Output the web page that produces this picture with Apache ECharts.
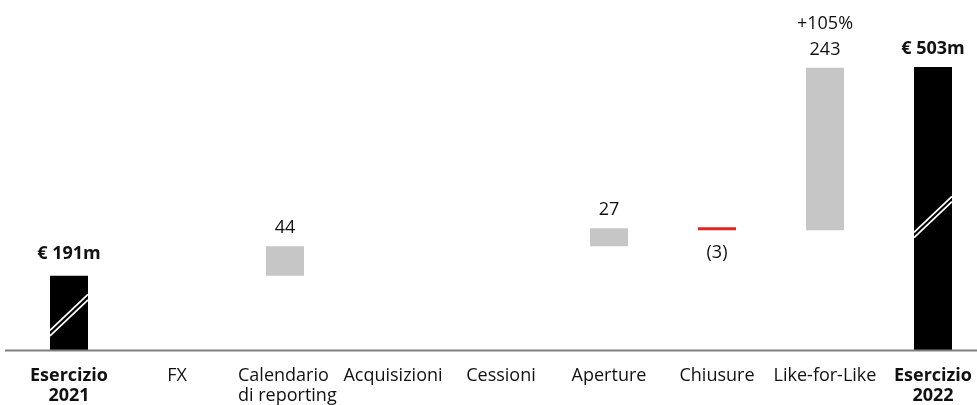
<!DOCTYPE html>
<html>
<head>
<meta charset="utf-8">
<script src="https://cdn.jsdelivr.net/npm/echarts@6/dist/echarts.min.js"></script>
<style>
html,body{margin:0;padding:0;background:#fff;}
#c{width:977px;height:405px;}
</style>
</head>
<body>
<div id="c"></div>
<script>
// ---- data ----
const categories = ['Esercizio 2021', 'FX', 'Calendario di reporting', 'Acquisizioni', 'Cessioni', 'Aperture', 'Chiusure', 'Like-for-Like', 'Esercizio 2022'];
const startValue = 191;
const endValue = 503;
const deltas = [null, 0, 44, 0, 0, 27, -3, 243, null];
const lflGrowth = '+105%';
const axisBreakValue = 80; // broken value axis starts here

// ---- derived ----
const FONT = 'Open Sans';
const FS = 18;
const helper = [], visible = [];
let cum = startValue;
deltas.forEach((d, i) => {
  if (i === 0) { helper.push(0); visible.push(startValue); return; }
  if (i === deltas.length - 1) { helper.push(0); visible.push(endValue); return; }
  if (d >= 0) { helper.push(cum); visible.push(d === 0 ? '-' : d); cum += d; }
  else { cum += d; helper.push(cum); visible.push(-d); }
});

const visibleData = visible.map((v, i) => {
  const isTotal = (i === 0 || i === deltas.length - 1);
  const d = deltas[i];
  const item = { value: v };
  if (isTotal) {
    item.itemStyle = { color: '#000000' };
    item.label = { show: true, position: 'top', distance: i === 0 ? 13 : 9, formatter: '€ ' + v + 'm', fontWeight: 'bold' };
  } else if (d < 0) {
    item.itemStyle = { color: '#e3241b' };
    item.label = { show: true, position: 'bottom', distance: 14, formatter: '(' + (-d) + ')' };
  } else if (d > 0) {
    item.itemStyle = { color: '#c6c6c6' };
    const isLfl = categories[i] === 'Like-for-Like';
    const txt = isLfl ? '{p|' + lflGrowth + '}\n{v|' + d + '}' : '{v|' + d + '}';
    item.label = { show: true, position: 'top', distance: 7, formatter: txt };
  }
  return item;
});

const breakData = [[0, startValue], [categories.length - 1, endValue]];

const chart = echarts.init(document.getElementById('c'), null, { renderer: 'canvas' });
const option = {
  animation: false,
  backgroundColor: '#ffffff',
  grid: { left: 69, right: 44, top: 67, bottom: 52, containLabel: false },
  xAxis: {
    type: 'category',
    data: categories,
    boundaryGap: false,
    axisTick: { show: false },
    axisLine: { show: false },
    splitLine: { show: false },
    axisLabel: {
      interval: 0,
      margin: 16,
      color: '#111',
      fontFamily: FONT,
      fontSize: FS,
      formatter: function (val, idx) {
        if (idx === 0 || idx === categories.length - 1) {
          const parts = val.split(' ');
          return '{b|' + parts[0] + '}\n{b|' + parts[1] + '}';
        }
        if (val === 'Calendario di reporting') return '{l|Calendario}\n{l|di reporting}';
        return '{n|' + val + '}';
      },
      rich: {
        n: { fontFamily: FONT, fontSize: FS, color: '#111', lineHeight: 20 },
        b: { fontFamily: FONT, fontSize: FS, fontWeight: 'bold', color: '#111', lineHeight: 20 },
        l: { fontFamily: FONT, fontSize: FS, color: '#111', lineHeight: 20, width: 94, align: 'left' }
      }
    }
  },
  yAxis: {
    type: 'value',
    min: axisBreakValue,
    max: endValue,
    show: false,
    splitLine: { show: false }
  },
  series: [
    {
      type: 'bar', stack: 'w', barWidth: 38, clip: false, silent: true,
      itemStyle: { color: 'transparent' },
      data: helper
    },
    {
      type: 'bar', stack: 'w', barWidth: 38, clip: true, barMinHeight: 3,
      label: {
        fontFamily: FONT, fontSize: FS, color: '#111',
        rich: {
          v: { fontFamily: FONT, fontSize: FS, color: '#111', lineHeight: 22 },
          p: { fontFamily: FONT, fontSize: FS, color: '#111', lineHeight: 30 }
        }
      },
      data: visibleData
    },
    {
      type: 'custom',
      silent: true,
      z: 10,
      renderItem: function (params, api) {
        const idx = api.value(0);
        const top = api.coord([idx, api.value(1)]);
        const base = api.coord([idx, axisBreakValue]);
        const half = 19;
        const cy = base[1] - 0.47 * (base[1] - top[1]);
        const x0 = top[0] - half, x1 = top[0] + half;
        const dy = 18;
        const off = 2.7;
        const st = { stroke: '#ffffff', lineWidth: 1.8 };
        return {
          type: 'group',
          children: [
            { type: 'line', shape: { x1: x0, y1: cy + dy - off, x2: x1, y2: cy - dy - off }, style: st },
            { type: 'line', shape: { x1: x0, y1: cy + dy + off, x2: x1, y2: cy - dy + off }, style: st }
          ]
        };
      },
      data: breakData
    }
  ]
};
chart.setOption(option);
const yBase = chart.convertToPixel({ yAxisIndex: 0 }, axisBreakValue);
chart.setOption({
  graphic: [{
    type: 'line', z: 5,
    shape: { x1: 5, y1: yBase + 0.5, x2: 977, y2: yBase + 0.5 },
    style: { stroke: '#7f7f7f', lineWidth: 2 }
  }]
});
</script>
</body>
</html>
